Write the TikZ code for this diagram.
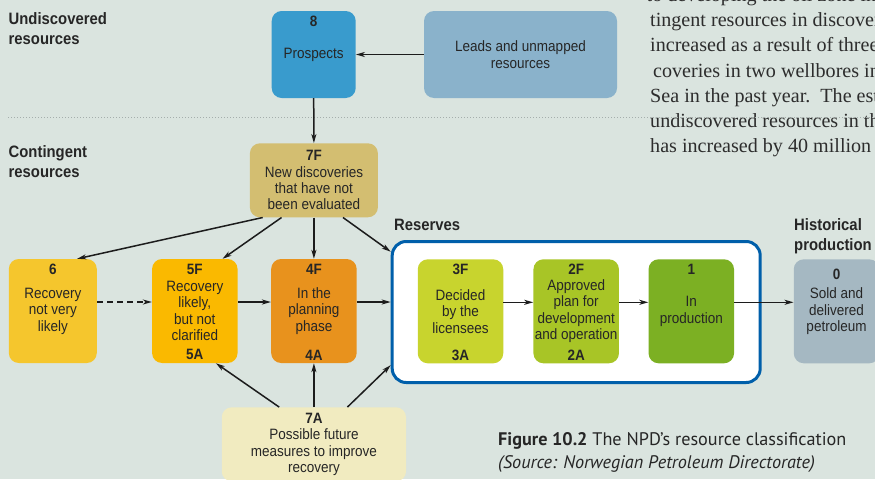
\documentclass[tikz,border=0pt]{standalone}
\usepackage{fontspec}
\setmainfont{Liberation Sans}[FakeStretch=0.9]
\newfontfamily\capfont{PT Sans}
\newfontfamily\paperfont{Liberation Serif}
\usepackage{tikz}
\usetikzlibrary{arrows.meta}
\definecolor{cPage}{RGB}{218,228,223}
\definecolor{cInk}{RGB}{38,38,38}
\definecolor{cLine}{RGB}{28,28,28}
\definecolor{cPaper}{RGB}{45,45,45}
\definecolor{cDots}{RGB}{165,174,172}
\definecolor{cProspect}{RGB}{57,155,205}
\definecolor{cLeads}{RGB}{138,178,203}
\definecolor{cNewDisc}{RGB}{211,190,113}
\definecolor{cSix}{RGB}{245,198,45}
\definecolor{cFive}{RGB}{250,185,0}
\definecolor{cFour}{RGB}{232,146,29}
\definecolor{cThree}{RGB}{200,212,46}
\definecolor{cTwo}{RGB}{168,197,38}
\definecolor{cOne}{RGB}{124,176,35}
\definecolor{cZero}{RGB}{165,184,194}
\definecolor{cFuture}{RGB}{241,235,192}
\definecolor{cFrame}{RGB}{0,95,170}
\newcommand{\boxfont}{\fontsize{15}{16.4}\selectfont}
\newcommand{\numfont}{\fontsize{15}{16}\selectfont\bfseries}
\newcommand{\grpfont}{\fontsize{16.5}{20}\selectfont\bfseries}
\tikzset{
	box/.style     ={rectangle, rounded corners=10pt, minimum width=85.5pt, minimum height=104pt, inner sep=1pt, align=center, font=\boxfont, text=cInk},
	numtop/.style  ={label={[font=\numfont, text=cInk, inner sep=0pt, anchor=north, yshift=-5pt]north:#1}},
	numbot/.style  ={label={[font=\numfont, text=cInk, inner sep=0pt, anchor=south, yshift=3pt]south:#1}},
	grouplbl/.style={anchor=north west, align=left, inner sep=0pt, font=\grpfont, text=cInk},
	link/.style    ={-{Stealth[length=9pt, width=5pt, inset=2.5pt]}, line width=1.5pt, draw=cLine},
	textline/.style={anchor=base west, inner sep=0pt, font={\paperfont\fontsize{20.1}{24}\selectfont}, text=cPaper},
}

\begin{document}
\begin{tikzpicture}[x=1pt, y=-1pt]
	\fill[cPage] (0,0) rectangle (875,479);
	\useasboundingbox (0,0) rectangle (875,479);
	\clip (0,0) rectangle (875,479);

	% running text of the page
	\node[textline] (t0) at (646.5,1.5)  {to developing the oil zone in t};
	\node[textline] (t1) at (650,26.7)   {tingent resources in discover};
	\node[textline] (t2) at (650,51.9)   {increased as a result of three};
	\node[textline] (t3) at (653,77.1)   {coveries in two wellbores in};
	\node[textline] (t4) at (650,102.3)  {Sea in the past year.\ \ The est};
	\node[textline] (t5) at (650,127.5)  {undiscovered resources in th};
	\node[textline] (t6) at (650,152.7)  {has increased by 40 million s};

	\draw[cDots, line width=1pt, dash pattern=on 1pt off 2pt] (8,117) -- (875,117);

	\node[grouplbl] (undisc) at (8.5,12.5)  {Undiscovered\\resources};
	\node[grouplbl] (conting) at (8.5,145)  {Contingent\\resources};
	\node[grouplbl] (hist) at (794,218)     {Historical\\production};
	\node[grouplbl] (reslbl) at (394,218.5) {Reserves};

	% undiscovered
	\node[box, fill=cProspect, minimum width=84pt, minimum height=87pt, numtop=8] (p8) at (313.7,54.5) {Prospects};
	\node[box, fill=cLeads, minimum width=193pt, minimum height=87pt] (leads) at (520.5,54.5) {Leads and unmapped\\resources};

	% contingent
	\node[box, fill=cNewDisc, minimum width=128pt, minimum height=74pt] (f7) at (313.9,180.3) {\textbf{7F}\\New discoveries\\that have not\\been evaluated};
	\node[box, fill=cSix, minimum width=88pt, numtop=6] (n6) at (52.8,311) {Recovery\\not very\\likely};
	\node[box, fill=cFive, numtop=5F, numbot=5A] (n5) at (194.8,311) {Recovery\\likely,\\but not\\clarified};
	\node[box, fill=cFour, numtop=4F, numbot=4A] (n4) at (313.9,311) {In the\\planning\\phase};
	\node[box, fill=cFuture, minimum width=184.3pt, minimum height=74pt] (f7a) at (313.9,444.3) {\textbf{7A}\\Possible future\\measures to improve\\recovery};

	% reserves
	\node[rectangle, rounded corners=14pt, draw=cFrame, line width=3pt, fill=white, minimum width=368pt, minimum height=141pt] (res) at (576.2,312) {};
	\node[box, fill=cThree, numtop=3F, numbot=3A] (n3) at (460.5,311.3) {Decided\\by the\\licensees};
	\node[box, fill=cTwo, numtop=2F, numbot=2A] (n2) at (576.2,311.3) {Approved\\plan for\\development\\and operation};
	\node[box, fill=cOne, numtop=1] (n1) at (691.3,311.3) {In\\production};

	% historical
	\node[box, fill=cZero, label={[font=\numfont, text=cInk, inner sep=0pt, anchor=north, yshift=-9.5pt]north:0}] (n0) at (836.5,311.3) {Sold and\\delivered\\petroleum};

	\draw[link] (leads.west) -- (p8.east);
	\draw[link] (p8.south) -- (f7.north);
	\draw[link] (f7.216.2) -- (n6.65.3);
	\draw[link] (f7.229.9) -- (n5.62);
	\draw[link] (f7.south) -- (n4.north);
	\draw[link] (f7.308.5) -- (res.162.2);
	\draw[link, dash pattern=on 6pt off 4pt] ([yshift=9pt]n6.east) -- ([yshift=9pt]n5.west);
	\draw[link] ([yshift=9pt]n5.east) -- ([yshift=9pt]n4.west);
	\draw[link] ([yshift=9pt]n4.east) -- ([yshift=9pt]n4.east -| res.west);
	\draw[link] ([yshift=9pt]n3.east) -- ([yshift=9pt]n2.west);
	\draw[link] ([yshift=9pt]n2.east) -- ([yshift=9pt]n1.west);
	\draw[link] ([yshift=9pt]n1.east) -- ([yshift=9pt]n0.west);
	\draw[link] (f7a.133.9) -- (n5.292.8);
	\draw[link] (f7a.north) -- (n4.south);
	\draw[link] (f7a.48.4) -- (res.196.4);

	\node[anchor=base west, inner sep=0pt, font={\capfont\fontsize{18.2}{20}\selectfont}, text=cInk] (cap1) at (498,445.7) {\textbf{Figure 10.2} The NPD’s resource classification};
	\node[anchor=base west, inner sep=0pt, font={\capfont\fontsize{18.2}{20}\selectfont\itshape}, text=cInk] (cap2) at (498,468.3) {(Source: Norwegian Petroleum Directorate)};
\end{tikzpicture}
\end{document}
